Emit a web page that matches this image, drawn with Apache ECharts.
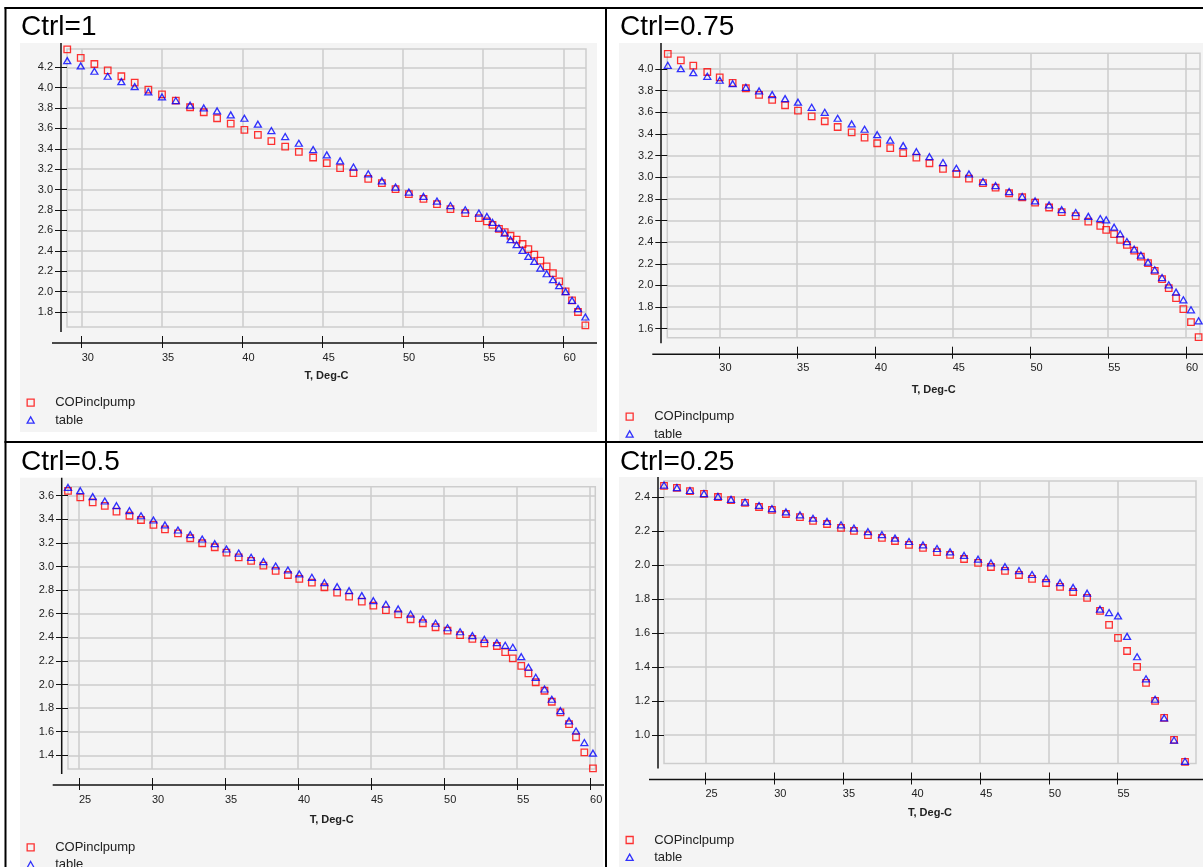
<!DOCTYPE html>
<html>
<head>
<meta charset="utf-8">
<script src="https://cdn.jsdelivr.net/npm/echarts@6/dist/echarts.min.js"></script>
<style>
  html, body { margin: 0; padding: 0; background: #fff; overflow: hidden; }
  #main { width: 1203px; height: 867px; }
</style>
</head>
<body>
<div id="main"></div>
<script>
// ---- data: Ctrl=1 ----
var x1 = [29.1, 29.94, 30.79, 31.62, 32.47, 33.3, 34.15, 35.0, 35.86, 36.75, 37.6, 38.43, 39.28, 40.13, 40.97, 41.81, 42.67, 43.52,
  44.41, 45.26, 46.09, 46.92, 47.84, 48.69, 49.54, 50.37, 51.28, 52.12, 52.96, 53.88,
  54.73, 55.23, 55.58, 55.98, 56.34, 56.7, 57.08, 57.45, 57.81, 58.18, 58.56, 58.95, 59.34, 59.73, 60.13, 60.53, 60.9, 61.36];
var cop1 = [4.376, 4.291, 4.232, 4.17, 4.112, 4.049, 3.98, 3.935, 3.873, 3.808, 3.759, 3.70, 3.648, 3.586, 3.537, 3.475, 3.422, 3.37,
  3.315, 3.26, 3.211, 3.162, 3.106, 3.064, 3.005, 2.956, 2.91, 2.858, 2.809, 2.77,
  2.721, 2.688, 2.655, 2.616, 2.584, 2.548, 2.509, 2.467, 2.417, 2.362, 2.303, 2.247, 2.182, 2.1, 2.003, 1.914, 1.8, 1.669];
var tab1 = [4.265, 4.213, 4.161, 4.112, 4.059, 4.01, 3.958, 3.909, 3.873, 3.828, 3.801, 3.772, 3.733, 3.70, 3.642, 3.579, 3.52, 3.455,
  3.393, 3.341, 3.282, 3.221, 3.155, 3.086, 3.025, 2.976, 2.933, 2.888, 2.844, 2.802,
  2.77, 2.737, 2.678, 2.623, 2.574, 2.509, 2.46, 2.404, 2.345, 2.296, 2.231, 2.175, 2.117, 2.058, 2.0, 1.914, 1.833, 1.751];
var xTicks1 = [30, 35, 40, 45, 50, 55, 60];
var yTicks1 = [1.8, 2.0, 2.2, 2.4, 2.6, 2.8, 3.0, 3.2, 3.4, 3.6, 3.8, 4.0, 4.2];
var xRange1 = [29.085, 61.4];
var yRange1 = [1.653, 4.379];

// ---- data: Ctrl=0.75 ----
var x2 = [26.69, 27.53, 28.33, 29.23, 30.03, 30.86, 31.71, 32.56, 33.4, 34.23, 35.06, 35.94, 36.78, 37.61, 38.51, 39.34, 40.15, 40.99, 41.82,
  42.67, 43.51, 44.38, 45.24, 46.05, 46.95, 47.76, 48.63, 49.47, 50.3,
  51.2, 52.01, 52.91, 53.72, 54.49, 54.87,
  55.38, 55.77, 56.2, 56.67, 57.1, 57.56, 57.99, 58.46, 58.89, 59.36, 59.83, 60.32, 60.81];
var cop2 = [4.14, 4.08, 4.031, 3.972, 3.923, 3.871, 3.822, 3.76, 3.714, 3.665, 3.615, 3.563, 3.517, 3.464, 3.415, 3.366, 3.314, 3.268, 3.222,
  3.181, 3.129, 3.077, 3.03, 2.987, 2.945, 2.904, 2.852, 2.815, 2.766,
  2.72, 2.678, 2.64, 2.59, 2.55, 2.513,
  2.474, 2.421, 2.375, 2.322, 2.267, 2.206, 2.135, 2.058, 1.975, 1.883, 1.781, 1.661, 1.522];
var tab2 = [4.034, 4.003, 3.966, 3.932, 3.896, 3.864, 3.831, 3.797, 3.763, 3.726, 3.693, 3.646, 3.6, 3.545, 3.492, 3.443, 3.393, 3.342, 3.292,
  3.236, 3.19, 3.135, 3.083, 3.03, 2.96, 2.922, 2.867, 2.821, 2.781,
  2.744, 2.7, 2.673, 2.638, 2.618, 2.606,
  2.538, 2.476, 2.405, 2.335, 2.28, 2.215, 2.144, 2.073, 2.006, 1.938, 1.867, 1.775, 1.673];
var xTicks2 = [30, 35, 40, 45, 50, 55, 60];
var yTicks2 = [1.6, 1.8, 2.0, 2.2, 2.4, 2.6, 2.8, 3.0, 3.2, 3.4, 3.6, 3.8, 4.0];
var xRange2 = [26.66, 60.9];
var yRange2 = [1.517, 4.145];

// ---- data: Ctrl=0.5 ----
var x3 = [24.25, 25.09, 25.94, 26.77, 27.57, 28.46, 29.25, 30.1, 30.89, 31.78, 32.62, 33.44, 34.3, 35.1, 35.94, 36.79, 37.63, 38.47, 39.31, 40.09,
  40.95, 41.81, 42.68, 43.5, 44.37, 45.16, 46.02, 46.86, 47.71, 48.55, 49.42, 50.24, 51.1, 51.94, 52.76, 53.62, 54.19, 54.71,
  55.29, 55.78, 56.28, 56.88, 57.38, 57.97, 58.56, 59.04, 59.61, 60.2];
var cop3 = [3.64, 3.586, 3.544, 3.513, 3.464, 3.43, 3.394, 3.352, 3.315, 3.281, 3.239, 3.197, 3.163, 3.117, 3.078, 3.047, 3.007, 2.962, 2.928, 2.895,
  2.863, 2.824, 2.778, 2.744, 2.702, 2.668, 2.631, 2.595, 2.553, 2.519, 2.485, 2.456, 2.419, 2.386, 2.349, 2.326, 2.275, 2.222,
  2.157, 2.095, 2.019, 1.947, 1.854, 1.764, 1.665, 1.553, 1.425, 1.29];
var tab3 = [3.67, 3.642, 3.592, 3.555, 3.515, 3.473, 3.43, 3.394, 3.352, 3.309, 3.27, 3.233, 3.193, 3.148, 3.114, 3.078, 3.041, 3.004, 2.97, 2.937,
  2.908, 2.863, 2.829, 2.795, 2.753, 2.71, 2.68, 2.64, 2.597, 2.555, 2.519, 2.481, 2.447, 2.414, 2.383, 2.354, 2.332, 2.315,
  2.236, 2.146, 2.061, 1.962, 1.875, 1.778, 1.691, 1.606, 1.508, 1.418];
var xTicks3 = [25, 30, 35, 40, 45, 50, 55, 60];
var yTicks3 = [1.4, 1.6, 1.8, 2.0, 2.2, 2.4, 2.6, 2.8, 3.0, 3.2, 3.4, 3.6];
var xRange3 = [24.25, 60.36];
var yRange3 = [1.284, 3.676];

// ---- data: Ctrl=0.25 ----
var x4 = [21.98, 22.92, 23.87, 24.89, 25.91, 26.86, 27.88, 28.9, 29.84, 30.86, 31.88, 32.83, 33.85, 34.87, 35.81, 36.83,
  37.85, 38.8, 39.82, 40.84, 41.86, 42.81, 43.83, 44.85, 45.79, 46.81, 47.83, 48.78, 49.8, 50.82, 51.77, 52.79,
  53.73, 54.39, 55.04, 55.7, 56.43, 57.08, 57.74, 58.4, 59.12, 59.92];
var cop4 = [2.465, 2.453, 2.435, 2.418, 2.40, 2.382, 2.365, 2.341, 2.324, 2.30, 2.282, 2.259, 2.241, 2.218, 2.20, 2.176,
  2.159, 2.141, 2.118, 2.10, 2.076, 2.059, 2.035, 2.012, 1.988, 1.965, 1.941, 1.918, 1.894, 1.871, 1.841, 1.806,
  1.73, 1.647, 1.571, 1.494, 1.40, 1.306, 1.20, 1.10, 0.971, 0.841];
var tab4 = [2.47, 2.455, 2.438, 2.42, 2.403, 2.386, 2.37, 2.35, 2.332, 2.312, 2.295, 2.275, 2.256, 2.236, 2.217, 2.196,
  2.178, 2.158, 2.138, 2.118, 2.097, 2.077, 2.056, 2.034, 2.012, 1.99, 1.967, 1.944, 1.92, 1.896, 1.868, 1.834,
  1.74, 1.72, 1.70, 1.58, 1.46, 1.33, 1.21, 1.10, 0.97, 0.845];
var xTicks4 = [25, 30, 35, 40, 45, 50, 55];
var yTicks4 = [1.0, 1.2, 1.4, 1.6, 1.8, 2.0, 2.2, 2.4];
var xRange4 = [21.98, 60.72];
var yRange4 = [0.832, 2.494];

var FONT = "'Liberation Sans', Arial, sans-serif";
var RED = '#ff0000';
var BLUE = '#0000ff';
var GRIDLINE = '#cdcdcd';

// layout of the four table cells
var panels = [
  { title: 'Ctrl=1', x: x1, cop: cop1, tab: tab1, xTicks: xTicks1, yTicks: yTicks1, xRange: xRange1, yRange: yRange1,
    bg: [20, 43, 577, 389], grid: [67, 49, 519, 278], yLine: [61, 43, 332], xLine: [52, 343, 597],
    titlePos: [21, 13], legendPos: [26.5, 395.2], nameGap: 34.7 },
  { title: 'Ctrl=0.75', x: x2, cop: cop2, tab: tab2, xTicks: xTicks2, yTicks: yTicks2, xRange: xRange2, yRange: yRange2,
    bg: [619, 43, 584, 398], grid: [667.3, 53.3, 532.7, 284.4], yLine: [661, 43, 343.3], xLine: [652.3, 354.3, 1203],
    titlePos: [620, 13], legendPos: [625.5, 409.2], nameGap: 37.3 },
  { title: 'Ctrl=0.5', x: x3, cop: cop3, tab: tab3, xTicks: xTicks3, yTicks: yTicks3, xRange: xRange3, yRange: yRange3,
    bg: [20, 477.7, 583, 390], grid: [68, 486.7, 527.3, 282.3], yLine: [61.7, 477.7, 774], xLine: [52.7, 785, 604],
    titlePos: [21, 448.6], legendPos: [26.5, 839.8], nameGap: 36.7 },
  { title: 'Ctrl=0.25', x: x4, cop: cop4, tab: tab4, xTicks: xTicks4, yTicks: yTicks4, xRange: xRange4, yRange: yRange4,
    bg: [619, 477, 584, 390], grid: [664, 481, 532, 282.5], yLine: [658, 477, 768.5], xLine: [649, 779.5, 1203],
    titlePos: [620, 448.6], legendPos: [625.5, 832.5], nameGap: 34.5 }
];

var chart = echarts.init(document.getElementById('main'));

var grids = [], xAxes = [], yAxes = [], series = [], legends = [], titles = [], graphics = [];

panels.forEach(function (p, i) {
  graphics.push({ type: 'rect', z: -10, shape: { x: p.bg[0], y: p.bg[1], width: p.bg[2], height: p.bg[3] }, style: { fill: '#f4f4f4' } });
  graphics.push({ type: 'line', z: 10, shape: { x1: p.yLine[0], y1: p.yLine[1], x2: p.yLine[0], y2: p.yLine[2] }, style: { stroke: '#111', lineWidth: 1.5 } });
  graphics.push({ type: 'line', z: 10, shape: { x1: p.xLine[0], y1: p.xLine[1], x2: p.xLine[2], y2: p.xLine[1] }, style: { stroke: '#111', lineWidth: 1.5 } });

  titles.push({
    text: p.title, left: p.titlePos[0], top: p.titlePos[1], padding: 0,
    textStyle: { fontFamily: FONT, fontSize: 28, fontWeight: 'normal', color: '#000' }
  });

  grids.push({
    left: p.grid[0], top: p.grid[1], width: p.grid[2], height: p.grid[3],
    show: true, borderColor: GRIDLINE, borderWidth: 1.5, backgroundColor: 'transparent',
    containLabel: false, outerBoundsMode: 'none'
  });

  xAxes.push({
    gridIndex: i, type: 'value', min: p.xRange[0], max: p.xRange[1], offset: 9,
    name: 'T, Deg-C', nameLocation: 'middle', nameGap: p.nameGap,
    nameTextStyle: { fontFamily: FONT, fontSize: 11, fontWeight: 'bold', color: '#222' },
    axisLine: { show: false },
    axisTick: { show: true, length: 12, customValues: p.xTicks, lineStyle: { color: '#111', width: 1 } },
    axisLabel: { customValues: p.xTicks, align: 'left', margin: 16, fontFamily: FONT, fontSize: 11, color: '#222' },
    splitLine: { show: true, lineStyle: { color: GRIDLINE, width: 1.5 } }
  });

  yAxes.push({
    gridIndex: i, type: 'value', min: p.yRange[0], max: p.yRange[1],
    axisLine: { show: false },
    axisTick: { show: true, length: 12, customValues: p.yTicks, lineStyle: { color: '#111', width: 1 } },
    axisLabel: {
      customValues: p.yTicks, margin: 14, fontFamily: FONT, fontSize: 11, color: '#222',
      formatter: function (v) { return v.toFixed(1); }
    },
    splitLine: { show: true, lineStyle: { color: GRIDLINE, width: 1.5 } }
  });

  series.push({
    name: 'COPinclpump', type: 'scatter', xAxisIndex: i, yAxisIndex: i, clip: false,
    symbol: 'rect', symbolSize: 6.5,
    itemStyle: { color: 'rgba(0,0,0,0)', borderColor: RED, borderWidth: 1.3 },
    data: p.x.map(function (v, k) { return [v, p.cop[k]]; })
  });
  series.push({
    name: 'table', type: 'scatter', xAxisIndex: i, yAxisIndex: i, clip: false,
    symbol: 'triangle', symbolSize: [7, 6],
    itemStyle: { color: 'rgba(0,0,0,0)', borderColor: BLUE, borderWidth: 1.3 },
    data: p.x.map(function (v, k) { return [v, p.tab[k]]; })
  });

  legends.push({
    left: p.legendPos[0], top: p.legendPos[1], height: 60, orient: 'vertical', padding: 0,
    itemWidth: 7, itemHeight: 7, itemGap: 2.3, selectedMode: false,
    textStyle: { fontFamily: FONT, fontSize: 13, color: '#222', lineHeight: 15, padding: [0, 0, 0, 16] },
    data: [
      { name: 'COPinclpump', icon: 'path://M0,0H10V10H0Z', itemStyle: { color: 'rgba(0,0,0,0)', borderColor: RED, borderWidth: 1.3 } },
      { name: 'table', icon: 'path://M5,0L10,9L0,9Z', itemStyle: { color: 'rgba(0,0,0,0)', borderColor: BLUE, borderWidth: 1.3 } }
    ]
  });
});

// table cell borders
[[4.5, 8, 1203, 8], [4.5, 442, 1203, 442], [5.5, 7, 5.5, 867], [606, 7, 606, 867]].forEach(function (l) {
  graphics.push({ type: 'line', z: 20, shape: { x1: l[0], y1: l[1], x2: l[2], y2: l[3] }, style: { stroke: '#000', lineWidth: 2 } });
});

chart.setOption({
  animation: false,
  title: titles,
  grid: grids,
  xAxis: xAxes,
  yAxis: yAxes,
  legend: legends,
  series: series,
  graphic: graphics
});
</script>
</body>
</html>
